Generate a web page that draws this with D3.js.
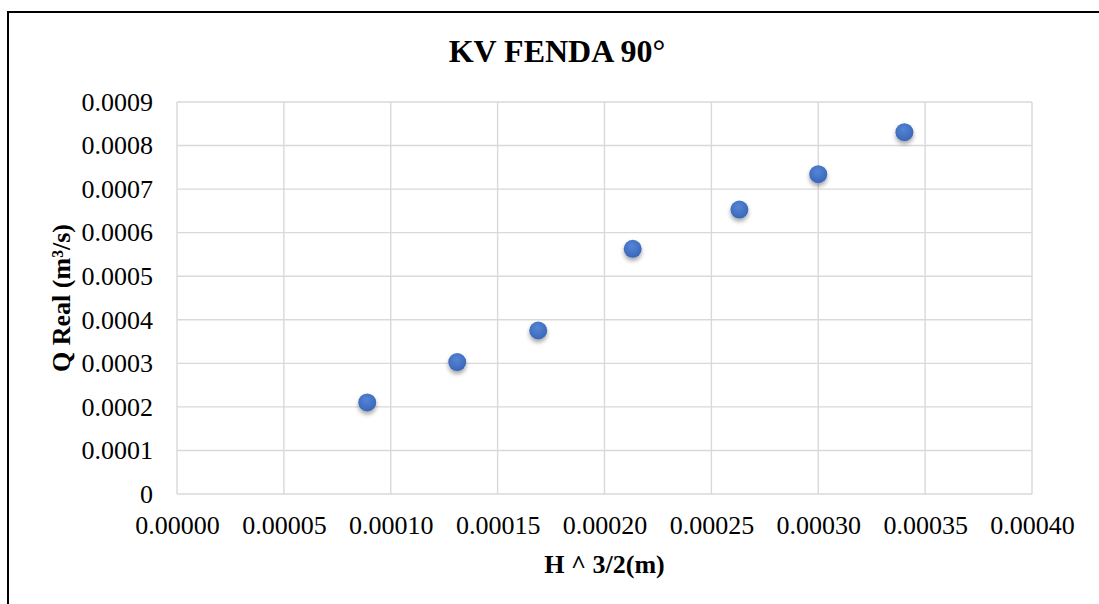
<!DOCTYPE html>
<html>
<head>
<meta charset="utf-8">
<script src="https://cdn.jsdelivr.net/npm/d3@7"></script>
<style>
  body { margin: 0; background: #fff; }
  svg { display: block; font-family: "Liberation Serif", "Times New Roman", serif; }
</style>
</head>
<body>
<div id="chart"></div>
<script>
const title = "KV FENDA 90°";
const xLabel = "H ^ 3/2(m)";
const yLabel = "Q Real (m³/s)";

const hValues = [0.0000890, 0.0001311, 0.0001690, 0.0002132, 0.0002631, 0.0003000, 0.0003403];
const qValues = [0.0002102, 0.0003029, 0.0003754, 0.0005629, 0.0006531, 0.0007343, 0.0008307];

const xTicks = [0, 0.00005, 0.0001, 0.00015, 0.0002, 0.00025, 0.0003, 0.00035, 0.0004];
const yTicks = [0, 0.0001, 0.0002, 0.0003, 0.0004, 0.0005, 0.0006, 0.0007, 0.0008, 0.0009];

const W = 1099, H = 604;
const margin = { top: 102, right: 67, bottom: 110, left: 177 };
const width = W - margin.left - margin.right,
      height = H - margin.top - margin.bottom;

const svg = d3.select("#chart").append("svg")
    .attr("width", W)
    .attr("height", H);

const defs = svg.append("defs");
const grad = defs.append("radialGradient")
    .attr("id", "dotGrad")
    .attr("cx", "45%").attr("cy", "35%").attr("r", "65%");
grad.append("stop").attr("offset", "0%").attr("stop-color", "#5585d6");
grad.append("stop").attr("offset", "100%").attr("stop-color", "#3a66b8");

const shadow = defs.append("filter")
    .attr("id", "dotShadow")
    .attr("x", "-50%").attr("y", "-50%").attr("width", "200%").attr("height", "220%");
shadow.append("feDropShadow")
    .attr("dx", 0).attr("dy", 3)
    .attr("stdDeviation", 2)
    .attr("flood-color", "#000")
    .attr("flood-opacity", 0.35);

// outer frame (only top and left sides are inside the picture)
svg.append("rect")
    .attr("x", 8).attr("y", 12)
    .attr("width", 1120).attr("height", 640)
    .attr("fill", "none")
    .attr("stroke", "#000")
    .attr("stroke-width", 2);

const g = svg.append("g")
    .attr("transform", "translate(" + margin.left + "," + margin.top + ")");

const xScale = d3.scaleLinear().domain([0, 0.0004]).range([0, width]);
const yScale = d3.scaleLinear().domain([0, 0.0009]).range([height, 0]);

// gridlines
g.append("g")
    .attr("class", "grid-x")
    .selectAll("line")
    .data(xTicks)
    .join("line")
    .attr("x1", d => xScale(d)).attr("x2", d => xScale(d))
    .attr("y1", 0).attr("y2", height)
    .attr("stroke", "#d9d9d9")
    .attr("stroke-width", 1.4);

g.append("g")
    .attr("class", "grid-y")
    .selectAll("line")
    .data(yTicks)
    .join("line")
    .attr("x1", 0).attr("x2", width)
    .attr("y1", d => yScale(d)).attr("y2", d => yScale(d))
    .attr("stroke", "#d9d9d9")
    .attr("stroke-width", 1.4);

// axes (labels only, no lines)
const xAxis = d3.axisBottom(xScale)
    .tickValues(xTicks)
    .tickSize(0)
    .tickPadding(22)
    .tickFormat(d3.format(".5f"));

const yAxis = d3.axisLeft(yScale)
    .tickValues(yTicks)
    .tickSize(0)
    .tickPadding(24)
    .tickFormat(d => d === 0 ? "0" : d3.format(".4f")(d));

g.append("g")
    .attr("class", "axis x-axis")
    .attr("transform", `translate(0, ${height})`)
    .call(xAxis)
    .call(a => a.select(".domain").remove())
    .selectAll("text")
    .attr("font-size", 26)
    .attr("font-family", "Liberation Serif")
    .attr("fill", "#000");

g.append("g")
    .attr("class", "axis y-axis")
    .call(yAxis)
    .call(a => a.select(".domain").remove())
    .selectAll("text")
    .attr("font-size", 26)
    .attr("font-family", "Liberation Serif")
    .attr("fill", "#000");

// points
g.selectAll(".dot")
    .data(hValues.map((h, i) => ({ h: h, q: qValues[i] })))
    .join("circle")
    .attr("class", "dot")
    .attr("cx", d => xScale(d.h))
    .attr("cy", d => yScale(d.q))
    .attr("r", 9)
    .attr("fill", "url(#dotGrad)")
    .attr("filter", "url(#dotShadow)");

// titles
svg.append("text")
    .attr("x", 557).attr("y", 62)
    .attr("text-anchor", "middle")
    .attr("font-size", 32)
    .attr("font-weight", "bold")
    .text(title);

svg.append("text")
    .attr("x", margin.left + width / 2).attr("y", 573)
    .attr("text-anchor", "middle")
    .attr("font-size", 26)
    .attr("font-weight", "bold")
    .text(xLabel);

svg.append("text")
    .attr("transform", `translate(70, ${margin.top + height / 2}) rotate(-90)`)
    .attr("text-anchor", "middle")
    .attr("font-size", 26)
    .attr("font-weight", "bold")
    .text(yLabel);
</script>
</body>
</html>
